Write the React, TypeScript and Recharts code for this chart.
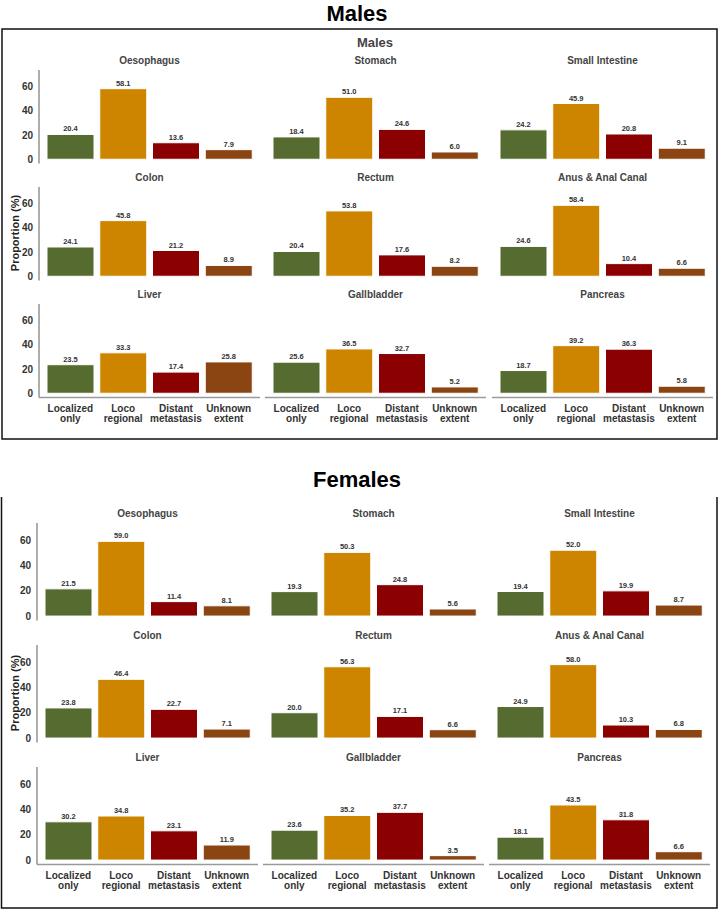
import React from 'react'
import { Bar, BarChart, Cell, LabelList, XAxis, YAxis } from 'recharts'

const stages = ['Localized only', 'Loco regional', 'Distant metastasis', 'Unknown extent']
const stageColors = ['#556B2F', '#CD8500', '#8B0000', '#8B4513']
const sites = [
  'Oesophagus', 'Stomach', 'Small Intestine',
  'Colon', 'Rectum', 'Anus & Anal Canal',
  'Liver', 'Gallbladder', 'Pancreas',
]
const yTicks = [0, 20, 40, 60]

// one value per site, same order as `sites`
const maleLocalized = [20.4, 18.4, 24.2, 24.1, 20.4, 24.6, 23.5, 25.6, 18.7]
const maleLoco = [58.1, 51.0, 45.9, 45.8, 53.8, 58.4, 33.3, 36.5, 39.2]
const maleDistant = [13.6, 24.6, 20.8, 21.2, 17.6, 10.4, 17.4, 32.7, 36.3]
const maleUnknown = [7.9, 6.0, 9.1, 8.9, 8.2, 6.6, 25.8, 5.2, 5.8]

const femaleLocalized = [21.5, 19.3, 19.4, 23.8, 20.0, 24.9, 30.2, 23.6, 18.1]
const femaleLoco = [59.0, 50.3, 52.0, 46.4, 56.3, 58.0, 34.8, 35.2, 43.5]
const femaleDistant = [11.4, 24.8, 19.9, 22.7, 17.1, 10.3, 23.1, 37.7, 31.8]
const femaleUnknown = [8.1, 5.6, 8.7, 7.1, 6.6, 6.8, 11.9, 3.5, 6.6]

const FONT = '"Liberation Sans", Arial, sans-serif'
const AXIS = '#9a9a9a'
const PANEL_W = 221
const Y_W = 30
const X_H = 32

type Row = { stage: string; value: number }

const XTick = (props: any) => {
  const { x, y, payload } = props
  const words = String(payload.value).split(' ')
  return (
    <text x={x} y={y} textAnchor="middle" fontFamily={FONT} fontSize={10} fontWeight="bold" fill="#333">
      <tspan x={x} dy={14.5}>{words[0]}</tspan>
      <tspan x={x} dy={10}>{words[1]}</tspan>
    </text>
  )
}

function Panel({
  left, top, height, data, showY, showX,
}: {
  left: number; top: number; height: number; data: Row[]; showY: boolean; showX: boolean
}) {
  const w = PANEL_W + (showY ? Y_W : 0)
  const h = height + (showX ? X_H : 0)
  return (
    <div style={{ position: 'absolute', left: left - (showY ? Y_W : 0), top }}>
      <BarChart width={w} height={h} data={data} margin={{ top: 0, right: 0, bottom: 0, left: 0 }} barSize={47}>
        <XAxis
          dataKey="stage"
          hide={!showX}
          height={X_H}
          padding={{ left: 5, right: 5 }}
          axisLine={{ stroke: AXIS, strokeWidth: 1.6 }}
          tickLine={false}
          tickSize={0}
          tickMargin={0}
          interval={0}
          tick={<XTick />}
        />
        <YAxis
          type="number"
          domain={[-3.5, 73.5]}
          ticks={yTicks}
          interval={0}
          hide={!showY}
          width={Y_W}
          axisLine={{ stroke: AXIS, strokeWidth: 1.6 }}
          tickLine={false}
          tickSize={4}
          tick={{ fontFamily: FONT, fontSize: 10, fontWeight: 'bold', fill: '#333' }}
        />
        <Bar dataKey="value" isAnimationActive={false} stroke="#ffffff" strokeWidth={1}>
          {data.map((_, i) => (
            <Cell key={i} fill={stageColors[i]} />
          ))}
          <LabelList
            dataKey="value"
            position="top"
            offset={3}
            formatter={(v: any) => Number(v).toFixed(1)}
            style={{ fontFamily: FONT, fontSize: 7.5, fontWeight: 'bold', fill: '#333' }}
          />
        </Bar>
      </BarChart>
    </div>
  )
}

function Grid({
  cols, rows, panelH, series,
}: {
  cols: number[]; rows: number[]; panelH: number; series: number[][]
}) {
  return (
    <>
      {sites.map((site, s) => {
        const c = s % 3
        const r = Math.floor(s / 3)
        const data = stages.map((stage, k) => ({ stage, value: series[k][s] }))
        return (
          <React.Fragment key={site}>
            <div
              style={{
                position: 'absolute', left: cols[c], top: rows[r] - 15, width: PANEL_W,
                textAlign: 'center', fontFamily: FONT, fontSize: 10, fontWeight: 'bold', color: '#444',
                lineHeight: '12px',
              }}
            >
              {site}
            </div>
            <Panel left={cols[c]} top={rows[r]} height={panelH} data={data} showY={c === 0} showX={r === 2} />
          </React.Fragment>
        )
      })}
    </>
  )
}

export default function App() {
  return (
    <div style={{ position: 'absolute', left: 0, top: 0, width: 719, height: 910, background: '#fff' }}>
      <svg width={719} height={910} style={{ position: 'absolute', left: 0, top: 0 }}>
        <text x={357} y={20.5} textAnchor="middle" fontFamily={FONT} fontSize={22} fontWeight="bold" fill="#000">
          Males
        </text>
        <rect x={2} y={29} width={715} height={410} fill="none" stroke="#111" strokeWidth={1.5} />
        <text x={375} y={47} textAnchor="middle" fontFamily={FONT} fontSize={13} fontWeight="bold" fill="#444">
          Males
        </text>
        <text
          x={0} y={0} transform="translate(19,233) rotate(-90)" textAnchor="middle"
          fontFamily={FONT} fontSize={11} fontWeight="bold" fill="#222"
        >
          Proportion (%)
        </text>

        <text x={357} y={487} textAnchor="middle" fontFamily={FONT} fontSize={22} fontWeight="bold" fill="#000">
          Females
        </text>
        <path d="M1.5,497 V908 H717 V497" fill="none" stroke="#111" strokeWidth={1.5} />
        <text
          x={0} y={0} transform="translate(19,693) rotate(-90)" textAnchor="middle"
          fontFamily={FONT} fontSize={11} fontWeight="bold" fill="#222"
        >
          Proportion (%)
        </text>
      </svg>

      <Grid
        cols={[39, 265, 492]}
        rows={[70, 187, 304]}
        panelH={93.5}
        series={[maleLocalized, maleLoco, maleDistant, maleUnknown]}
      />
      <Grid
        cols={[37, 263, 489]}
        rows={[523, 645, 767]}
        panelH={97.5}
        series={[femaleLocalized, femaleLoco, femaleDistant, femaleUnknown]}
      />
    </div>
  )
}
